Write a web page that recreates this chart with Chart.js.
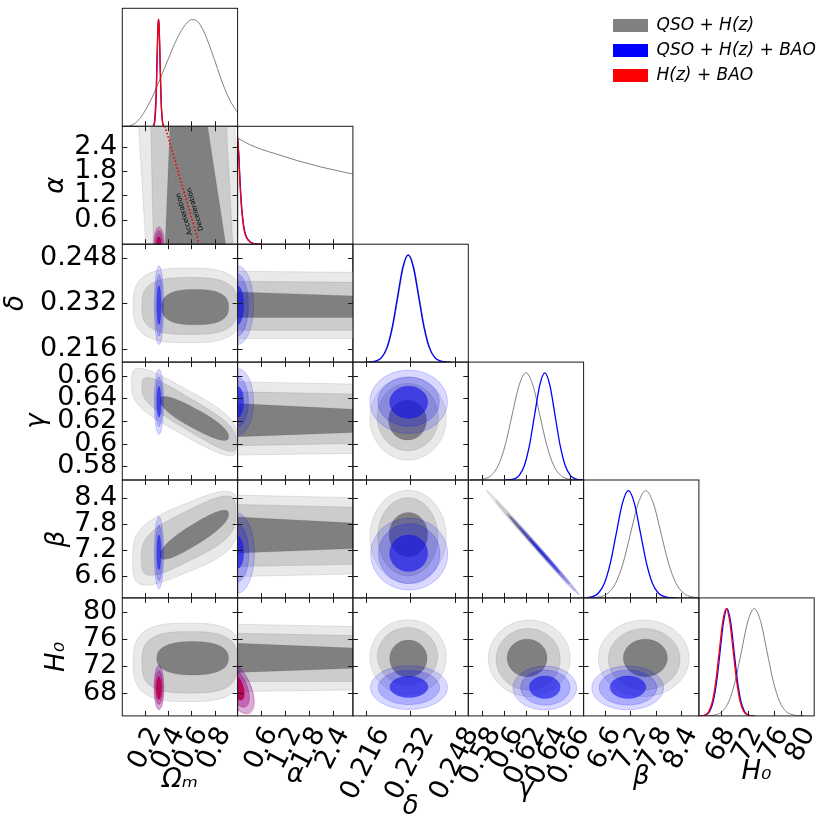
<!DOCTYPE html>
<html>
<head>
<meta charset="utf-8">
<script src="https://cdn.jsdelivr.net/npm/chart.js@4.4.1/dist/chart.umd.min.js"></script>
<style>
  html, body { margin: 0; padding: 0; background: #fff; }
  body { width: 831px; height: 830px; position: relative; overflow: hidden; }
  .cell { position: absolute; }
</style>
</head>
<body>
<script>
// ---------------------------------------------------------------- data

// parameters: Ωm, α, δ, γ, β, H0
const paramNames = ['Ωₘ', 'α', 'δ', 'γ', 'β', 'H₀']
const paramMin = [0, 0, 0.2114, 0.568, 6.10, 64.7]
const paramMax = [1, 2.9, 0.2528, 0.672, 8.82, 82.0]

const omTicks = [0.2, 0.4, 0.6, 0.8]
const alphaTicks = [0.6, 1.2, 1.8, 2.4]
const deltaTicks = [0.216, 0.232, 0.248]
const gammaTicks = [0.58, 0.6, 0.62, 0.64, 0.66]
const betaTicks = [6.6, 7.2, 7.8, 8.4]
const h0Ticks = [68, 72, 76, 80]

const seriesNames = ['QSO + H(z)', 'QSO + H(z) + BAO', 'H(z) + BAO']

// 1D marginals (peak = 1)
const omX_qso = [0, 0.05, 0.1, 0.15, 0.2, 0.25, 0.3, 0.35, 0.4, 0.45, 0.5, 0.55, 0.6, 0.65, 0.7, 0.75, 0.8, 0.85, 0.9, 0.95, 1.0]
const omY_qso = [0, 0.002, 0.02, 0.07, 0.15, 0.25, 0.37, 0.5, 0.63, 0.76, 0.87, 0.95, 0.995, 0.98, 0.9, 0.77, 0.62, 0.46, 0.32, 0.21, 0.13]
const omX_qsoBao = [0.268, 0.278, 0.288, 0.294, 0.299, 0.304, 0.309, 0.314, 0.319, 0.324, 0.329, 0.334, 0.34, 0.35, 0.36]
const omY_qsoBao = [0.004, 0.035, 0.18, 0.33, 0.53, 0.75, 0.93, 1, 0.93, 0.75, 0.53, 0.33, 0.16, 0.035, 0.004]
const omX_hzBao = [0.27, 0.28, 0.29, 0.295, 0.30, 0.305, 0.31, 0.315, 0.32, 0.325, 0.33, 0.335, 0.34, 0.35, 0.36]
const omY_hzBao = [0.0025, 0.027, 0.158, 0.306, 0.515, 0.744, 0.929, 1, 0.929, 0.744, 0.515, 0.306, 0.158, 0.027, 0.0025]

const alphaX_qso = [0, 0.3, 0.6, 0.9, 1.2, 1.5, 1.8, 2.1, 2.4, 2.7, 2.9]
const alphaY_qso = [0.99, 0.93, 0.885, 0.85, 0.815, 0.78, 0.75, 0.72, 0.695, 0.67, 0.655]
const alphaX_low = [0, 0.03, 0.06, 0.1, 0.15, 0.2, 0.27, 0.35, 0.45, 0.6]
const alphaY_qsoBao = [0.98, 0.84, 0.6, 0.36, 0.18, 0.09, 0.04, 0.014, 0.003, 0]
const alphaY_hzBao = [1.0, 0.82, 0.57, 0.33, 0.16, 0.08, 0.035, 0.012, 0.002, 0]

// bell shaped marginals: heights at the listed x values
const bellY = [0.0003, 0.0022, 0.0111, 0.0439, 0.1353, 0.3247, 0.6065, 0.8825, 1, 0.8825, 0.6065, 0.3247, 0.1353, 0.0439, 0.0111, 0.0022, 0.0003]
const deltaX_qso = [0.2162, 0.2181, 0.2200, 0.2219, 0.2238, 0.2257, 0.2276, 0.2295, 0.2314, 0.2333, 0.2352, 0.2371, 0.2390, 0.2409, 0.2428, 0.2447, 0.2466]
const deltaX_qsoBao = [0.2160, 0.2179, 0.2198, 0.2217, 0.2236, 0.2255, 0.2274, 0.2293, 0.2312, 0.2331, 0.2350, 0.2369, 0.2388, 0.2407, 0.2426, 0.2445, 0.2464]
const gammaX_qso = [0.570, 0.5763, 0.5825, 0.5888, 0.595, 0.6013, 0.6075, 0.6138, 0.620, 0.6263, 0.6325, 0.6388, 0.645, 0.6513, 0.6575, 0.6638, 0.670]
const gammaX_qsoBao = [0.6002, 0.6048, 0.6094, 0.614, 0.6186, 0.6232, 0.6278, 0.6324, 0.637, 0.6416, 0.6462, 0.6508, 0.6554, 0.66, 0.6646, 0.6692, 0.6738]
const betaX_qso = [6.139, 6.318, 6.496, 6.675, 6.853, 7.032, 7.210, 7.389, 7.567, 7.746, 7.924, 8.103, 8.281, 8.460, 8.638, 8.817, 8.995]
const betaX_qsoBao = [6.021, 6.163, 6.305, 6.447, 6.589, 6.731, 6.873, 7.015, 7.157, 7.299, 7.441, 7.583, 7.725, 7.867, 8.009, 8.151, 8.293]
const h0X_qso = [65.4, 66.35, 67.3, 68.25, 69.2, 70.15, 71.1, 72.05, 73, 73.95, 74.9, 75.85, 76.8, 77.75, 78.7, 79.65, 80.6]
const h0X_qsoBao = [64.77, 65.29, 65.81, 66.33, 66.85, 67.37, 67.89, 68.41, 68.93, 69.45, 69.97, 70.49, 71.01, 71.53, 72.05, 72.57, 73.09]
const h0X_hzBao = [64.64, 65.16, 65.68, 66.2, 66.72, 67.24, 67.76, 68.28, 68.8, 69.32, 69.84, 70.36, 70.88, 71.4, 71.92, 72.44, 72.96]

// 2D contours, outer -> inner level.
// blob: [centre x, centre y, half width x, half height y, y shift per x, roundness]
// band: list of [x, y] corners
const qso_om_alpha = [
  [[0.139, 3.0], [0.975, 3.0], [1.03, -0.1], [0.206, -0.1]],
  [[0.247, 3.0], [0.902, 3.0], [0.96, -0.1], [0.270, -0.1]],
  [[0.415, 3.0], [0.734, 3.0], [0.902, -0.1], [0.371, -0.1]]
]
const qso_om_delta = [[0.57, 0.2313, 0.475, 0.0131, 0, 3], [0.585, 0.2311, 0.415, 0.0100, 0, 3], [0.632, 0.2307, 0.29, 0.0062, 0, 2.6]]
const qso_alpha_delta = [
  [[-0.1, 0.2433], [3, 0.2429], [3, 0.2197], [-0.1, 0.2197]],
  [[-0.1, 0.2398], [3, 0.2394], [3, 0.2226], [-0.1, 0.2226]],
  [[-0.1, 0.2361], [3, 0.2346], [3, 0.2271], [-0.1, 0.2271]]
]
const qso_om_gamma = [[0.54, 0.628, 0.46, 0.021, -0.056, 3.6], [0.58, 0.6258, 0.41, 0.0148, -0.06, 3.4], [0.625, 0.6223, 0.297, 0.0092, -0.054, 2.4]]
const qso_alpha_gamma = [
  [[-0.1, 0.6546], [3, 0.6526], [3, 0.5915], [-0.1, 0.5900]],
  [[-0.1, 0.6458], [3, 0.6438], [3, 0.6003], [-0.1, 0.5982]],
  [[-0.1, 0.6356], [3, 0.6303], [3, 0.6100], [-0.1, 0.6061]]
]
const qso_delta_gamma = [[0.2312, 0.6223, 0.0137, 0.0367, 0, 2], [0.2311, 0.6235, 0.0110, 0.0297, 0, 2], [0.2310, 0.6208, 0.0068, 0.0176, 0, 2]]
const qso_om_beta = [[0.55, 7.477, 0.46, 0.80, 1.09, 3.6], [0.575, 7.536, 0.41, 0.59, 1.3, 3.4], [0.625, 7.558, 0.297, 0.26, 1.6, 2.4]]
const qso_alpha_beta = [
  [[-0.1, 8.473], [3, 8.411], [3, 6.653], [-0.1, 6.591]],
  [[-0.1, 8.259], [3, 8.190], [3, 6.876], [-0.1, 6.821]],
  [[-0.1, 7.973], [3, 7.821], [3, 7.245], [-0.1, 7.130]]
]
const qso_delta_beta = [[0.2312, 7.51, 0.0137, 1.075, 0, 2], [0.2311, 7.51, 0.0108, 0.90, 0, 2], [0.2313, 7.56, 0.0069, 0.51, 0, 2]]
const qso_gamma_beta = [[0.6245, 7.42, 0.040, 0.09, -29, 2], [0.6235, 7.45, 0.031, 0.065, -29, 2], [0.622, 7.49, 0.019, 0.04, -29, 2]]
const qso_om_h0 = [[0.57, 72.55, 0.475, 5.75, 0, 3], [0.585, 72.55, 0.415, 4.5, 0, 3], [0.61, 73.15, 0.311, 2.45, 0, 2.4]]
const qso_alpha_h0 = [
  [[-0.1, 78.15], [3, 77.79], [3, 68.51], [-0.1, 68.26]],
  [[-0.1, 76.83], [3, 76.47], [3, 69.73], [-0.1, 69.73]],
  [[-0.1, 75.36], [3, 74.63], [3, 71.69], [-0.1, 71.05]]
]
const qso_delta_h0 = [[0.2312, 73.3, 0.0137, 5.5, 0, 2], [0.2310, 73.45, 0.0108, 4.2, 0, 2], [0.2313, 73.1, 0.0067, 2.73, 0, 2]]
const qso_gamma_h0 = [[0.623, 73.15, 0.0369, 5.6, 0, 2], [0.622, 73.0, 0.0289, 4.5, 0, 2], [0.621, 73.2, 0.018, 2.75, 0, 2]]
const qso_beta_h0 = [[7.52, 73.15, 1.07, 5.6, 0, 2], [7.53, 73.0, 0.845, 4.5, 0, 2], [7.557, 73.2, 0.52, 2.75, 0, 2]]

const qsoBao_om_alpha = [[0.318, 0, 0.040, 0.39, 0, 2], [0.318, 0, 0.028, 0.28, 0, 2], [0.318, 0, 0.0175, 0.16, 0, 2]]
const qsoBao_om_delta = [[0.318, 0.2314, 0.040, 0.0138, 0, 2], [0.318, 0.2314, 0.028, 0.0108, 0, 2], [0.318, 0.2314, 0.0175, 0.0068, 0, 2]]
const qsoBao_alpha_delta = [[0, 0.2314, 0.40, 0.0138, 0, 2], [0, 0.2314, 0.27, 0.0108, 0, 2], [0, 0.2314, 0.15, 0.0068, 0, 2]]
const qsoBao_om_gamma = [[0.318, 0.637, 0.040, 0.0287, 0, 2], [0.318, 0.637, 0.028, 0.022, 0, 2], [0.318, 0.637, 0.0175, 0.0135, 0, 2]]
const qsoBao_alpha_gamma = [[0, 0.637, 0.40, 0.0294, 0, 2], [0, 0.637, 0.27, 0.022, 0, 2], [0, 0.637, 0.15, 0.0135, 0, 2]]
const qsoBao_delta_gamma = [[0.2314, 0.637, 0.0139, 0.0279, 0, 2], [0.2314, 0.637, 0.011, 0.0216, 0, 2], [0.2314, 0.6366, 0.0068, 0.0142, 0, 2]]
const qsoBao_om_beta = [[0.318, 7.14, 0.040, 0.83, 0, 2], [0.318, 7.14, 0.028, 0.64, 0, 2], [0.318, 7.15, 0.0175, 0.40, 0, 2]]
const qsoBao_alpha_beta = [[0, 7.13, 0.42, 0.92, 0, 2], [0, 7.13, 0.28, 0.66, 0, 2], [0, 7.15, 0.15, 0.37, 0, 2]]
const qsoBao_delta_beta = [[0.2316, 7.11, 0.0138, 0.826, 0, 2], [0.2316, 7.12, 0.011, 0.69, 0, 2], [0.2314, 7.13, 0.0068, 0.42, 0, 2]]
const qsoBao_gamma_beta = [[0.637, 7.07, 0.031, 0.07, -29, 2], [0.637, 7.07, 0.022, 0.05, -29, 2], [0.637, 7.07, 0.0136, 0.03, -29, 2]]
const qsoBao_om_h0 = [[0.318, 68.9, 0.040, 3.2, 0, 2], [0.318, 68.9, 0.028, 2.5, 0, 2], [0.318, 68.9, 0.0175, 1.6, 0, 2]]
const qsoBao_alpha_h0 = [[0, 68.9, 0.40, 3.2, -5, 2], [0, 68.9, 0.28, 2.5, -5, 2], [0, 68.9, 0.16, 1.6, -5, 2]]
const qsoBao_delta_h0 = [[0.2315, 68.85, 0.0138, 3.2, 0, 2], [0.2315, 68.87, 0.011, 2.5, 0, 2], [0.2315, 68.95, 0.0068, 1.55, 0, 2]]
const qsoBao_gamma_h0 = [[0.637, 68.8, 0.0286, 3.2, 0, 2], [0.6375, 68.85, 0.0222, 2.55, 0, 2], [0.637, 68.9, 0.0139, 1.65, 0, 2]]
const qsoBao_beta_h0 = [[7.14, 68.8, 0.845, 3.2, 0, 2], [7.146, 68.85, 0.68, 2.55, 0, 2], [7.146, 68.9, 0.42, 1.65, 0, 2]]

const hzBao_om_alpha = [[0.318, 0, 0.045, 0.43, 0, 2], [0.318, 0, 0.032, 0.33, 0, 2], [0.318, 0, 0.02, 0.18, 0, 2]]
const hzBao_om_h0 = [[0.318, 68.8, 0.042, 3.2, 0, 2], [0.318, 68.78, 0.032, 2.4, 0, 2], [0.318, 68.75, 0.024, 1.6, 0, 2]]
const hzBao_alpha_h0 = [[0, 68.8, 0.42, 3.2, -5, 2], [0, 68.8, 0.3, 2.4, -5, 2], [0, 68.8, 0.17, 1.6, -5, 2]]

// q = 0 line in the (Ωm, α) plane
const accelLine = [[0.661, 0.066], [0.365, 2.95]]
const accelText = [['Acceleration', 0.537, 0.74], ['Deceleration', 0.632, 0.86]]

// ---------------------------------------------------------------- layout / styles

const paramTicks = [omTicks, alphaTicks, deltaTicks, gammaTicks, betaTicks, h0Ticks]
const colEdge = [122.3, 237.6, 352.9, 468.3, 583.6, 698.9, 814.2]
const rowEdge = [8.3, 126.3, 244.2, 362.1, 480.0, 597.9, 715.9]
const Y_AXIS_W = 118
const X_AXIS_H = 112
const TICK = 5
const labelShift = [10, 10, 17.5, 13, 10, 8]
const titlePadX = [32, 37, 5, 23, 35, 40]
const titlePadY = [0, 36, -4, 17, 37, 37]

const greyFills = ['rgb(233,233,233)', 'rgb(204,204,204)', 'rgb(128,128,128)']
const blueFills = ['rgba(0,0,255,0.15)', 'rgba(0,0,255,0.2)', 'rgba(20,20,230,0.62)']
const redFills = ['rgba(215,15,85,0.22)', 'rgba(215,15,85,0.3)', 'rgba(190,0,70,0.85)']
const lineColors = ['rgb(128,128,128)', 'rgb(0,0,255)', 'rgb(255,0,0)']

Chart.defaults.font.family = "'DejaVu Sans', sans-serif"
Chart.defaults.color = '#000'
Chart.defaults.animation = false

const pairs = [
  [1, 0, qso_om_alpha, qsoBao_om_alpha, hzBao_om_alpha],
  [2, 0, qso_om_delta, qsoBao_om_delta, null],
  [2, 1, qso_alpha_delta, qsoBao_alpha_delta, null],
  [3, 0, qso_om_gamma, qsoBao_om_gamma, null],
  [3, 1, qso_alpha_gamma, qsoBao_alpha_gamma, null],
  [3, 2, qso_delta_gamma, qsoBao_delta_gamma, null],
  [4, 0, qso_om_beta, qsoBao_om_beta, null],
  [4, 1, qso_alpha_beta, qsoBao_alpha_beta, null],
  [4, 2, qso_delta_beta, qsoBao_delta_beta, null],
  [4, 3, qso_gamma_beta, qsoBao_gamma_beta, null],
  [5, 0, qso_om_h0, qsoBao_om_h0, hzBao_om_h0],
  [5, 1, qso_alpha_h0, qsoBao_alpha_h0, hzBao_alpha_h0],
  [5, 2, qso_delta_h0, qsoBao_delta_h0, null],
  [5, 3, qso_gamma_h0, qsoBao_gamma_h0, null],
  [5, 4, qso_beta_h0, qsoBao_beta_h0, null]
]

const diagonal = [
  [[omX_qso, omY_qso], [omX_qsoBao, omY_qsoBao], [omX_hzBao, omY_hzBao]],
  [[alphaX_qso, alphaY_qso], [alphaX_low, alphaY_qsoBao], [alphaX_low, alphaY_hzBao]],
  [[deltaX_qso, bellY], [deltaX_qsoBao, bellY], null],
  [[gammaX_qso, bellY], [gammaX_qsoBao, bellY], null],
  [[betaX_qso, bellY], [betaX_qsoBao, bellY], null],
  [[h0X_qso, bellY], [h0X_qsoBao, bellY], [h0X_hzBao, bellY]]
]

// ---------------------------------------------------------------- helpers

function addCanvas(left, top, width, height) {
  const div = document.createElement('div')
  div.className = 'cell'
  div.style.left = left + 'px'
  div.style.top = top + 'px'
  div.style.width = width + 'px'
  div.style.height = height + 'px'
  const canvas = document.createElement('canvas')
  div.appendChild(canvas)
  document.body.appendChild(div)
  return canvas
}

function paramAxis(p, show, horizontal) {
  return {
    type: 'linear',
    position: horizontal ? 'bottom' : 'left',
    min: paramMin[p],
    max: paramMax[p],
    display: show,
    grid: { display: false, drawTicks: false },
    border: { display: false },
    afterBuildTicks: s => { s.ticks = paramTicks[p].map(v => ({ value: v })) },
    afterFit: s => {
      if (!show) return
      if (horizontal) s.height = X_AXIS_H
      else s.width = Y_AXIS_W
      s.paddingLeft = 0; s.paddingRight = 0; s.paddingTop = 0; s.paddingBottom = 0
    },
    ticks: {
      autoSkip: false,
      color: '#000',
      font: { size: 27 },
      padding: horizontal ? 6 : 5,
      minRotation: horizontal ? 63 : 0,
      maxRotation: horizontal ? 63 : 0,
      labelOffset: horizontal ? labelShift[p] : 0,
      callback: v => String(v)
    },
    title: {
      display: show,
      text: paramNames[p],
      color: '#000',
      font: { size: 26, style: 'italic' },
      padding: horizontal ? { top: 0, bottom: titlePadX[p] } : { top: titlePadY[p], bottom: 0 }
    }
  }
}

function tracePath(ctx, xs, ys, s) {
  ctx.beginPath()
  if (Array.isArray(s[0])) {
    s.forEach((pt, i) => {
      const px = xs.getPixelForValue(pt[0]), py = ys.getPixelForValue(pt[1])
      if (i) ctx.lineTo(px, py); else ctx.moveTo(px, py)
    })
  } else {
    const [cx, cy, hx, hy, sy, n] = s
    for (let i = 0; i <= 180; i++) {
      const t = i / 180 * 2 * Math.PI
      const c = Math.cos(t), sn = Math.sin(t)
      const u = Math.sign(c) * Math.pow(Math.abs(c), 2 / n)
      const w = Math.sign(sn) * Math.pow(Math.abs(sn), 2 / n)
      const px = xs.getPixelForValue(cx + hx * u)
      const py = ys.getPixelForValue(cy + hy * w + sy * hx * u)
      if (i) ctx.lineTo(px, py); else ctx.moveTo(px, py)
    }
  }
  ctx.closePath()
}

function contourPlugin(groups) {
  return {
    id: 'contours',
    beforeDatasetsDraw(chart) {
      const { ctx, chartArea: a } = chart
      ctx.save()
      ctx.beginPath()
      ctx.rect(a.left, a.top, a.right - a.left, a.bottom - a.top)
      ctx.clip()
      groups.forEach(g => {
        if (!g.shapes) return
        g.shapes.forEach((s, i) => {
          tracePath(ctx, chart.scales.x, chart.scales.y, s)
          ctx.fillStyle = g.fills[i]
          ctx.fill()
          ctx.strokeStyle = g.edge
          ctx.lineWidth = 0.8
          ctx.stroke()
        })
      })
      ctx.restore()
    }
  }
}

function framePlugin(xTicks, yTicks, diag) {
  return {
    id: 'frame',
    afterDatasetsDraw(chart) {
      const { ctx, chartArea: a } = chart
      const xs = chart.scales.x, ys = chart.scales.y
      ctx.save()
      ctx.strokeStyle = '#1a1a1a'
      ctx.lineWidth = 1
      ctx.beginPath()
      xTicks.forEach(v => {
        const px = Math.round(xs.getPixelForValue(v)) + 0.5
        ctx.moveTo(px, a.bottom); ctx.lineTo(px, a.bottom - TICK)
        if (!diag) { ctx.moveTo(px, a.top); ctx.lineTo(px, a.top + TICK) }
      })
      if (!diag) yTicks.forEach(v => {
        const py = Math.round(ys.getPixelForValue(v)) + 0.5
        ctx.moveTo(a.left, py); ctx.lineTo(a.left + TICK, py)
        ctx.moveTo(a.right, py); ctx.lineTo(a.right - TICK, py)
      })
      ctx.stroke()
      ctx.strokeRect(a.left, a.top, a.right - a.left, a.bottom - a.top)
      ctx.restore()
    }
  }
}

const accelPlugin = {
  id: 'accel',
  afterDatasetsDraw(chart) {
    const { ctx } = chart
    const xs = chart.scales.x, ys = chart.scales.y
    const x1 = xs.getPixelForValue(accelLine[0][0]), y1 = ys.getPixelForValue(accelLine[0][1])
    const x2 = xs.getPixelForValue(accelLine[1][0]), y2 = ys.getPixelForValue(accelLine[1][1])
    const angle = Math.atan2(y2 - y1, x2 - x1)
    ctx.save()
    ctx.fillStyle = '#000'
    ctx.font = "7px 'DejaVu Sans'"
    ctx.textAlign = 'center'
    ctx.textBaseline = 'middle'
    accelText.forEach(([txt, xv, yv]) => {
      ctx.save()
      ctx.translate(xs.getPixelForValue(xv), ys.getPixelForValue(yv))
      ctx.rotate(angle)
      ctx.fillText(txt, 0, 0)
      ctx.restore()
    })
    ctx.restore()
  }
}

function lineSet(xv, yv, k, width) {
  return {
    label: seriesNames[k],
    data: xv.map((x, i) => ({ x: x, y: yv[i] })),
    showLine: true,
    borderColor: lineColors[k],
    borderWidth: width,
    pointRadius: 0,
    cubicInterpolationMode: 'monotone'
  }
}

function makePanel(r, c, datasets, plugins) {
  const diag = r === c
  const showY = c === 0 && r > 0
  const showX = r === 5
  const x0 = colEdge[c], x1 = colEdge[c + 1], y0 = rowEdge[r], y1 = rowEdge[r + 1]
  const left = Math.floor(x0) - 4 - (showY ? Y_AXIS_W : (showX ? 60 : 0))
  const top = Math.floor(y0) - 4
  const right = Math.ceil(x1) + (showX ? 14 : 4)
  const bottom = Math.ceil(y1) + 4 + (showX ? X_AXIS_H : 0)
  const canvas = addCanvas(left, top, right - left, bottom - top)
  const yAxis = diag
    ? { type: 'linear', min: 0, max: 1.1, display: false }
    : paramAxis(r, showY, false)
  new Chart(canvas, {
    type: 'scatter',
    data: { datasets: datasets },
    options: {
      responsive: true,
      maintainAspectRatio: false,
      animation: false,
      layout: {
        padding: {
          left: x0 - left - (showY ? Y_AXIS_W : 0),
          top: y0 - top,
          right: right - x1,
          bottom: bottom - y1 - (showX ? X_AXIS_H : 0)
        }
      },
      scales: { x: paramAxis(c, showX, true), y: yAxis },
      plugins: { legend: { display: false }, tooltip: { enabled: false } },
      events: []
    },
    plugins: plugins.concat([framePlugin(paramTicks[c], diag ? [] : paramTicks[r], diag)])
  })
}

// ---------------------------------------------------------------- build

diagonal.forEach((curves, i) => {
  const sets = []
  // red first so that it is drawn on top, grey last (underneath)
  if (curves[2]) sets.push(lineSet(curves[2][0], curves[2][1], 2, 1.3))
  if (curves[1]) sets.push(lineSet(curves[1][0], curves[1][1], 1, 1.3))
  sets.push(lineSet(curves[0][0], curves[0][1], 0, 1))
  makePanel(i, i, sets, [])
})

pairs.forEach(([r, c, grey, blue, red]) => {
  const groups = [
    { shapes: grey, fills: greyFills, edge: 'rgba(0,0,0,0.12)' },
    { shapes: blue, fills: blueFills, edge: 'rgba(0,0,255,0.25)' },
    { shapes: red, fills: redFills, edge: 'rgba(200,0,80,0.35)' }
  ]
  const sets = []
  const plugins = [contourPlugin(groups)]
  if (r === 1 && c === 0) {
    sets.push({
      data: accelLine.map(p => ({ x: p[0], y: p[1] })),
      showLine: true,
      borderColor: 'rgb(255,0,0)',
      borderWidth: 1.6,
      borderDash: [1.6, 2],
      pointRadius: 0
    })
    plugins.push(accelPlugin)
  }
  makePanel(r, c, sets, plugins)
})

// legend
const legendCanvas = addCanvas(605, 9, 226, 92)
new Chart(legendCanvas, {
  type: 'scatter',
  data: {
    datasets: seriesNames.map((name, k) => ({
      label: name,
      data: [],
      backgroundColor: lineColors[k],
      borderColor: lineColors[k],
      borderWidth: 0
    }))
  },
  options: {
    responsive: true,
    maintainAspectRatio: false,
    animation: false,
    scales: { x: { display: false }, y: { display: false } },
    plugins: {
      tooltip: { enabled: false },
      legend: {
        position: 'left',
        align: 'start',
        maxWidth: 226,
        labels: {
          boxWidth: 35,
          boxHeight: 13,
          padding: 8,
          color: '#000',
          font: { size: 17, style: 'italic' }
        }
      }
    },
    events: []
  }
})
</script>
</body>
</html>
